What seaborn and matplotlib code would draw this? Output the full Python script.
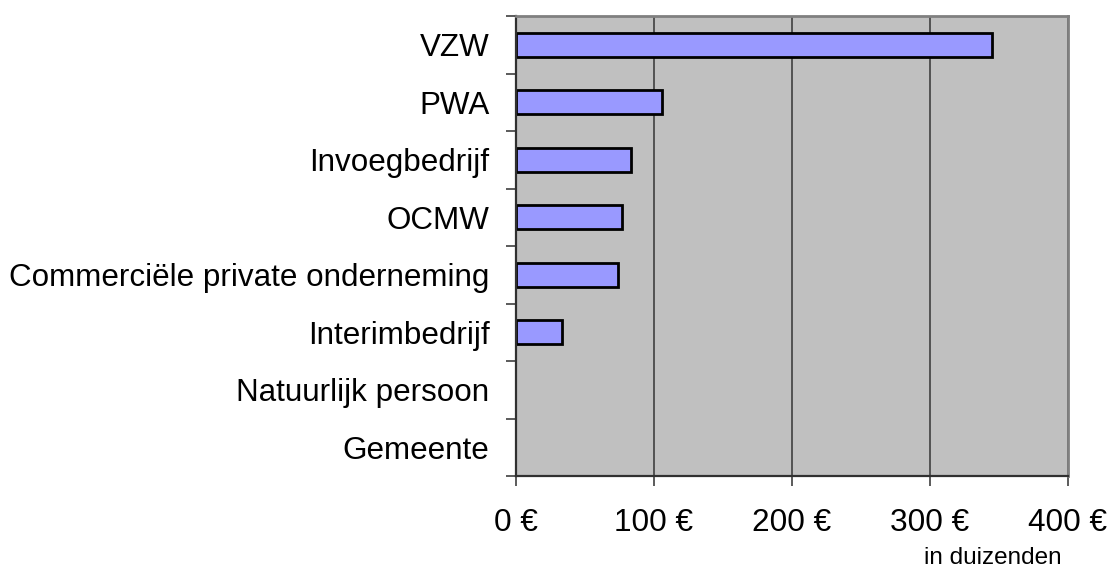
import matplotlib
matplotlib.use('Agg')
import pandas as pd
import matplotlib.pyplot as plt
import seaborn as sns
from matplotlib.ticker import FixedLocator

categories = ["VZW", "PWA", "Invoegbedrijf", "OCMW",
              "Commerciële private onderneming", "Interimbedrijf",
              "Natuurlijk persoon", "Gemeente"]
values = [345, 106, 83, 77, 74, 33, 0, 0]
xticks = [0, 100, 200, 300, 400]
xtick_labels = ["0 €", "100 €", "200 €", "300 €", "400 €"]

df = pd.DataFrame({"categorie": categories, "waarde": values})

sns.set_style("white")
plt.rcParams['font.family'] = ['Liberation Sans', 'DejaVu Sans']
plt.rcParams['text.color'] = 'black'
plt.rcParams['xtick.color'] = 'black'
plt.rcParams['ytick.color'] = 'black'

fig = plt.figure(figsize=(11.12, 5.68), dpi=100)
ax = fig.add_axes([0.4640, 0.16197, 0.4964, 0.80986])
ax.set_facecolor("#C0C0C0")

sns.barplot(data=df, x="waarde", y="categorie", orient="h", ax=ax,
            color="#9999FF", edgecolor="black", linewidth=2,
            width=0.42, saturation=1)
# no outline for empty bars
for p in ax.patches:
    if p.get_width() == 0:
        p.set_linewidth(0)

ax.set_xlim(0, 400)
ax.set_ylim(7.5, -0.5)
ax.set_xticks(xticks)
ax.set_xticklabels(xtick_labels, fontsize=22.7)
ax.set_yticks(range(len(categories)))
ax.set_yticklabels(categories, fontsize=22.6)
ax.yaxis.set_minor_locator(FixedLocator([i - 0.5 for i in range(len(categories) + 1)]))
ax.tick_params(axis="y", which="major", length=0, pad=19, labelcolor="black")
ax.tick_params(axis="y", which="minor", length=7, width=1.2, color="#404040", left=True)
ax.tick_params(axis="x", which="major", length=7, width=1.2, color="#404040",
               bottom=True, pad=16, labelcolor="black")
ax.set_xlabel("")
ax.set_ylabel("")

ax.grid(axis="x", color="#404040", linewidth=1.2)
ax.set_axisbelow(True)

for side in ["top", "right"]:
    ax.spines[side].set_color("#808080")
    ax.spines[side].set_linewidth(2)
for side in ["left", "bottom"]:
    ax.spines[side].set_color("#303030")
    ax.spines[side].set_linewidth(1.6)

fig.text(993 / 1112, 1 - 564 / 568, "in duizenden", fontsize=17.5,
         ha="center", va="baseline", color="black")

plt.savefig("out.png", dpi=100)
